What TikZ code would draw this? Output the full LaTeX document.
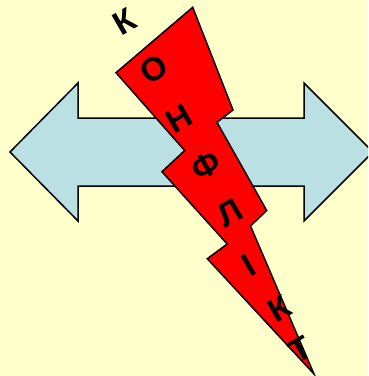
\documentclass[tikz,border=0pt]{standalone}
\usepackage{fontspec}
\setmainfont{Liberation Sans}
\newfontfamily\letterfont{Liberation Sans Bold}
\definecolor{bgyellow}{RGB}{255,255,204}
\definecolor{arrowblue}{RGB}{186,224,227}
\definecolor{boltred}{RGB}{255,0,0}
\newcommand\lettersize{\fontsize{33pt}{33pt}\selectfont}
\tikzset{
  outline/.style={draw=black, line width=1.5pt, line join=miter},
  letter/.style={font=\letterfont\lettersize, text=black, rotate=30, inner sep=0pt}
}
\begin{document}
\begin{tikzpicture}[x=1pt,y=-1pt]
\useasboundingbox (0,0) rectangle (368,376);
\fill[bgyellow] (0,0) rectangle (368,376);
\begin{scope}
\clip (0,0) rectangle (368,376);
% double arrow
\filldraw[outline, fill=arrowblue]
  (10,152) -- (78,83) -- (78,118) -- (304,118) -- (304,83) -- (373,152)
  -- (304,221) -- (304,186) -- (78,186) -- (78,221) -- cycle;
% lightning bolt
\filldraw[outline, fill=boltred]
  (192.7,7.3) -- (233,110) -- (217,122.3) -- (266.7,210.5) -- (250.5,226)
  -- (314,374) -- (207.3,258.7) -- (227.2,244) -- (162,171.7) -- (184.7,150.5)
  -- (116,72.7) -- cycle;
\end{scope}
% letters
\node[letter] (k1) at (125,22) {К};
\node[letter] (o) at (154.3,69.5) {О};
\node[letter] (n) at (179.5,118.5) {Н};
\node[letter] (f) at (206.5,165.5) {Ф};
\node[letter] (l) at (230,213) {Л};
\node[letter] (i) at (249,265) {І};
\node[letter] (k2) at (280,309) {К};
\node[letter] (t) at (300.5,350) {Т};
\end{tikzpicture}
\end{document}
